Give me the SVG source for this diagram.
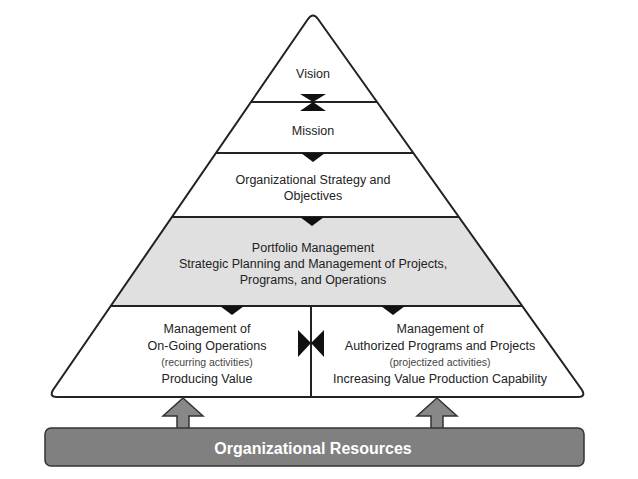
<svg xmlns="http://www.w3.org/2000/svg" width="638" height="479" viewBox="0 0 638 479">
<style>
text{font-family:"Liberation Sans",Arial,sans-serif;font-size:12.5px;fill:#222;text-anchor:middle}
.s{font-size:10.5px;fill:#444}
.ln{stroke:#222;stroke-width:2;fill:none}
.tri{fill:#111}
.ga{fill:#888;stroke:#333;stroke-width:1.5}
</style>
<rect width="638" height="479" fill="#fff"/>
<g id="pyramid">
<path d="M172,217 L459,217 L522,306 L111,306 Z" fill="#e0e0e0"/>
<path d="M308,19 Q313,12 318,19 L582,390 Q586,397 578,397 L57,397 Q49,397 53,390 Z" class="ln"/>
<line x1="251" y1="102" x2="377" y2="102" class="ln"/>
<line x1="216" y1="153" x2="413" y2="153" class="ln"/>
<line x1="172" y1="217" x2="459" y2="217" class="ln"/>
<line x1="111" y1="306" x2="522" y2="306" class="ln"/>
<line x1="311" y1="306" x2="311" y2="397" class="ln"/>
</g>
<g id="connectors">
<path class="tri" d="M300,94 L326,94 L313,102 Z M300,111 L326,111 L313,102 Z"/>
<path class="tri" d="M301,153 L325,153 L313,162 Z"/>
<path class="tri" d="M300,217 L324,217 L312,226 Z"/>
<path class="tri" d="M220,306 L244,306 L232,315 Z"/>
<path class="tri" d="M381,306 L405,306 L393,315 Z"/>
<path class="tri" d="M298,330 L311,343 L298,357 Z M324,330 L311,343 L324,357 Z"/>
<path class="ga" d="M183,398 L203,416 L189,416 L189,429 L177,429 L177,416 L163,416 Z"/>
<path class="ga" d="M437,398 L457,416 L443,416 L443,429 L431,429 L431,416 L417,416 Z"/>
</g>
<g id="vision"><text x="313" y="78">Vision</text></g>
<g id="mission"><text x="313" y="135">Mission</text></g>
<g id="strategy"><text x="313" y="184">Organizational Strategy and</text><text x="313" y="200">Objectives</text></g>
<g id="portfolio"><text x="313" y="252">Portfolio Management</text><text x="313" y="268">Strategic Planning and Management of Projects,</text><text x="313" y="284">Programs, and Operations</text></g>
<g id="operations"><text x="207" y="333">Management of</text><text x="207" y="350">On-Going Operations</text><text x="207" y="366" class="s">(recurring activities)</text><text x="207" y="383">Producing Value</text></g>
<g id="projects"><text x="440" y="333">Management of</text><text x="440" y="350">Authorized Programs and Projects</text><text x="440" y="366" class="s">(projectized activities)</text><text x="440" y="383">Increasing Value Production Capability</text></g>
<g id="resources"><rect x="45" y="428" width="539" height="38" rx="6" fill="#808080" stroke="#333" stroke-width="1.5"/><text x="313" y="454" style="fill:#fff;font-weight:bold;font-size:16px">Organizational Resources</text></g>
</svg>
